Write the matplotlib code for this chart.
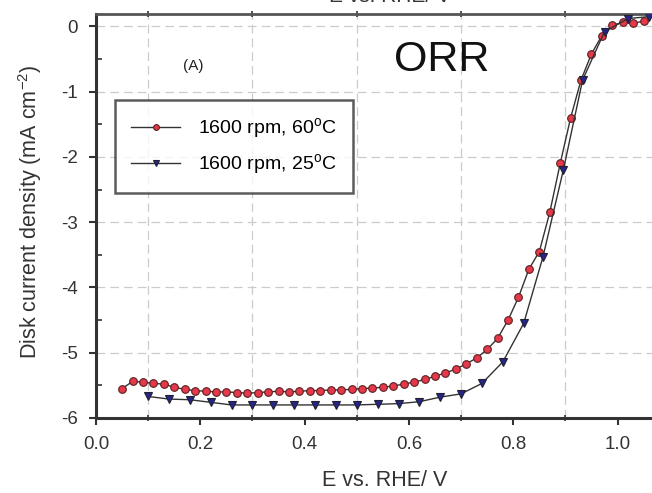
import numpy as np
import matplotlib
matplotlib.use("Agg")
import matplotlib.pyplot as plt
from matplotlib.ticker import MultipleLocator, FixedLocator

plt.rcParams['font.family'] = ['Liberation Sans', 'DejaVu Sans']
plt.rcParams['axes.unicode_minus'] = False

# 1600 rpm, 60 C (red circles)
e_60 = [0.05, 0.07, 0.09, 0.11, 0.13, 0.15, 0.17, 0.19, 0.21, 0.23,
        0.25, 0.27, 0.29, 0.31, 0.33, 0.35, 0.37, 0.39, 0.41, 0.43,
        0.45, 0.47, 0.49, 0.51, 0.53, 0.55, 0.57, 0.59, 0.61, 0.63,
        0.65, 0.67, 0.69, 0.71, 0.73, 0.75, 0.77, 0.79, 0.81, 0.83,
        0.85, 0.87, 0.89, 0.91, 0.93, 0.95, 0.97, 0.99, 1.01, 1.03, 1.05]
j_60 = [-5.55, -5.44, -5.45, -5.47, -5.48, -5.53, -5.56, -5.58, -5.59, -5.60,
        -5.60, -5.61, -5.62, -5.61, -5.60, -5.59, -5.60, -5.59, -5.58, -5.58,
        -5.57, -5.57, -5.56, -5.55, -5.54, -5.53, -5.51, -5.48, -5.45, -5.41,
        -5.36, -5.31, -5.25, -5.17, -5.08, -4.95, -4.78, -4.50, -4.15, -3.72,
        -3.45, -2.85, -2.10, -1.40, -0.82, -0.42, -0.14, 0.02, 0.06, 0.05, 0.08]

# 1600 rpm, 25 C (blue triangles)
e_25 = [0.10, 0.14, 0.18, 0.22, 0.26, 0.30, 0.34, 0.38, 0.42, 0.46,
        0.50, 0.54, 0.58, 0.62, 0.66, 0.70, 0.74, 0.78, 0.82, 0.857,
        0.896, 0.933, 0.975, 1.02, 1.06]
j_25 = [-5.67, -5.71, -5.72, -5.76, -5.80, -5.80, -5.80, -5.80, -5.80, -5.80,
        -5.80, -5.79, -5.78, -5.75, -5.68, -5.63, -5.47, -5.14, -4.55, -3.53,
        -2.20, -0.82, -0.08, 0.12, 0.15]

fig = plt.figure(figsize=(6.52, 4.93), dpi=100)
ax = fig.add_axes([96 / 652, 75 / 493, 556 / 652, 404 / 493])

ax.plot(e_60, j_60, '-', color='#333333', lw=1.0, marker='o', ms=5.5,
        mfc='#e5384a', mec='#5a2020', mew=0.8, label='1600 rpm, 60$^{\\mathregular{o}}$C', zorder=3)
ax.plot(e_25, j_25, '-', color='#333333', lw=1.0, marker='v', ms=6.0,
        mfc='#25258a', mec='#202030', mew=0.8, label='1600 rpm, 25$^{\\mathregular{o}}$C', zorder=3)

ax.set_xlim(0, 1.066)
ax.set_ylim(-6, 0.19)

ax.xaxis.set_minor_locator(FixedLocator([0.1, 0.3, 0.5, 0.7, 0.9]))
ax.yaxis.set_major_locator(MultipleLocator(1))
ax.yaxis.set_minor_locator(MultipleLocator(0.5))
ax.set_xticks([0.0, 0.2, 0.4, 0.6, 0.8, 1.0])
ax.set_xticklabels(['0.0', '0.2', '0.4', '0.6', '0.8', '1.0'])

ax.tick_params(axis='both', which='major', direction='out', length=5, width=1.5,
               color='#333333', labelsize=13.5, labelcolor='#333333')
ax.tick_params(axis='x', which='major', pad=8)
ax.tick_params(axis='y', which='major', pad=8)
ax.tick_params(axis='both', which='minor', direction='in', length=4, width=1.2, color='#333333')
ax.tick_params(axis='x', which='minor', top=True, direction='inout', length=5)

ax.grid(True, which='major', axis='y', color='#cccccc', ls=(0, (7, 4)), lw=0.9)
ax.grid(True, which='minor', axis='x', color='#cccccc', ls=(0, (7, 4)), lw=0.9)

for side in ['left', 'bottom']:
    ax.spines[side].set_linewidth(2.2)
    ax.spines[side].set_color('#333333')
ax.spines['top'].set_linewidth(2.0)
ax.spines['top'].set_color('#555555')
ax.spines['right'].set_visible(False)

ax.set_xlabel('E vs. RHE/ V', fontsize=15.5, color='#333333')
ax.xaxis.set_label_coords((385 - 96) / 556, -(470 - 418) / 404)
ax.set_ylabel('Disk current density (mA cm$^{\\mathregular{-2}}$)', fontsize=15.5,
              color='#333333')
ax.yaxis.set_label_coords(-(96 - 44) / 556, (418 - 212) / 404)

ax.text(0.187, -0.6, '(A)', fontsize=11, color='#222222', ha='center', va='center')
ax.text(0.662, -0.52, 'ORR', fontsize=31, color='#111111', ha='center', va='center')

fig.text(390 / 652, 487 / 493, 'E vs. RHE/ V', fontsize=15, color='#333333',
         ha='center', va='bottom')

leg = ax.legend(loc='upper left', bbox_to_anchor=(0.034, 0.787), borderaxespad=0,
                fontsize=14, frameon=True, fancybox=False, handlelength=2.5,
                borderpad=0.85, labelspacing=0.55, handletextpad=0.9, markerscale=0.75)
leg.get_frame().set_edgecolor('#333333')
leg.get_frame().set_linewidth(1.8)

fig.savefig('out.png', dpi=100)
